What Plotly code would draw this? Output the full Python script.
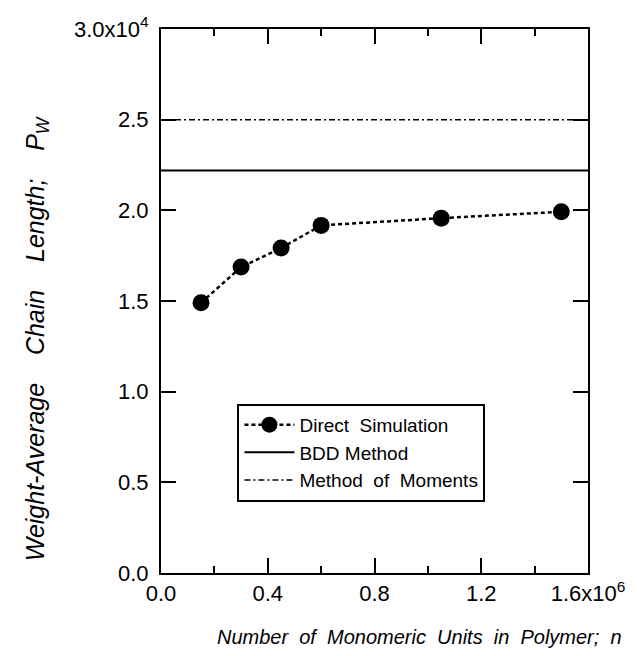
import plotly.graph_objects as go

# ---- data ----
n_units = [0.15e6, 0.30e6, 0.45e6, 0.60e6, 1.05e6, 1.50e6]
pw_direct = [14900, 16870, 17920, 19170, 19570, 19920]
bdd_value = 22200
mom_value = 25000

x_range = [0, 1.6e6]
y_range = [0, 3.0e4]
x_tickvals = [0, 0.4e6, 0.8e6, 1.2e6, 1.6e6]
x_ticktext = ["0.0", "0.4", "0.8", "1.2", "1.6x10<sup>6</sup>"]
y_tickvals = [0, 5000, 10000, 15000, 20000, 25000, 30000]
y_ticktext = ["0.0", "0.5", "1.0", "1.5", "2.0", "2.5", "3.0x10<sup>4</sup>"]

FONT = "Liberation Sans, Arial, Helvetica, sans-serif"

fig = go.Figure()
fig.add_trace(go.Scatter(
    x=n_units, y=pw_direct, mode="lines+markers", name="Direct  Simulation",
    line=dict(color="black", width=2.5, dash="4px,3px"),
    marker=dict(color="black", size=17),
))
fig.add_trace(go.Scatter(
    x=x_range, y=[bdd_value, bdd_value], mode="lines", name="BDD Method",
    line=dict(color="black", width=2),
))
fig.add_trace(go.Scatter(
    x=x_range, y=[mom_value, mom_value], mode="lines", name="Method  of  Moments",
    line=dict(color="black", width=1.5, dash="6px,3px,2px,3px"),
))

axis_common = dict(
    showline=True, linecolor="black", linewidth=2, mirror="ticks",
    ticks="inside", ticklen=15, tickwidth=2, tickcolor="black",
    showgrid=False, zeroline=False,
    tickfont=dict(family=FONT, size=22, color="black"),
)

fig.update_xaxes(range=x_range, tickvals=x_tickvals, ticktext=x_ticktext,
                 minor=dict(dtick=0.2e6, ticklen=7, tickwidth=2, ticks="inside", tickcolor="black"),
                 ticklabelstandoff=0, **axis_common)
fig.update_yaxes(range=y_range, tickvals=y_tickvals, ticktext=y_ticktext,
                 ticklabelstandoff=6, **axis_common)

fig.add_annotation(
    text="<i>Weight-Average    Chain    Length;    P<sub>W</sub></i>",
    xref="paper", yref="paper", x=-0.29, y=0.43, textangle=-90,
    showarrow=False, font=dict(family=FONT, size=25, color="black"),
    xanchor="center", yanchor="middle",
)
fig.add_annotation(
    text="<i>Number  of  Monomeric  Units  in  Polymer;  n</i>",
    xref="paper", yref="paper", x=0.605, y=-0.118,
    showarrow=False, font=dict(family=FONT, size=20, color="black"),
    xanchor="center", yanchor="middle",
)

fig.update_layout(
    width=637, height=656,
    margin=dict(l=161, r=44, t=29, b=83),
    paper_bgcolor="white", plot_bgcolor="white",
    showlegend=True,
    legend=dict(
        x=0.179, y=0.311, xanchor="left", yanchor="top",
        bordercolor="black", borderwidth=2, bgcolor="white",
        font=dict(family=FONT, size=19, color="black"),
        itemwidth=50, tracegroupgap=0,
    ),
)

fig.write_html("out.html", config={"displayModeBar": False},
               post_script="document.body.style.margin='0';document.body.style.overflow='hidden';")
